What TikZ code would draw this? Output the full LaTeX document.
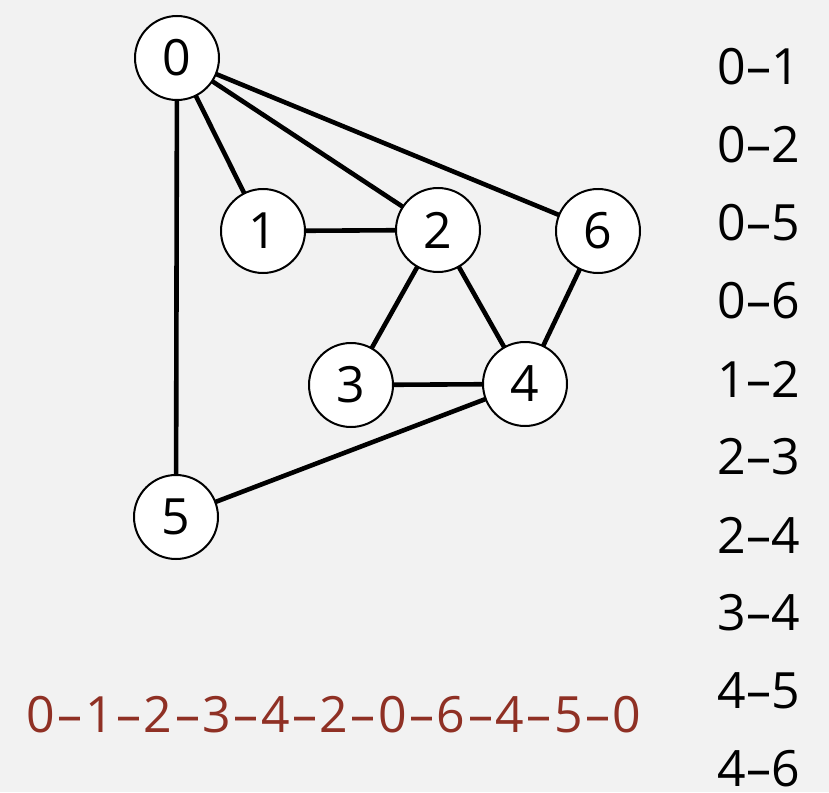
\documentclass[tikz,border=0pt]{standalone}
\usepackage{fontspec}
\setmainfont{Open Sans}
\definecolor{bggray}{RGB}{242,242,242}
\definecolor{pathred}{RGB}{143,48,36}
\usetikzlibrary{positioning,backgrounds}

\begin{document}
\begin{tikzpicture}[
    x=0.5pt, y=-0.5pt,
    vertex/.style={circle, draw=black, line width=1pt, fill=white, minimum size=42pt, inner sep=0pt, font=\fontsize{25}{30}\selectfont},
    edge/.style={line width=2.3pt, black},
    elabel/.style={anchor=center, font=\fontsize{25}{30}\selectfont}
]
    \useasboundingbox (0,0) rectangle (829,792);

    \node[vertex] (v0) at (177,58) {0};
    \node[vertex] (v1) at (263,231) {1};
    \node[vertex] (v2) at (438,230) {2};
    \node[vertex] (v6) at (598,231) {6};
    \node[vertex] (v3) at (351,385) {3};
    \node[vertex] (v4) at (525,384) {4};
    \node[vertex] (v5) at (176,517) {5};

    \begin{scope}[on background layer]
        \fill[bggray] (0,0) rectangle (829,792);
        \foreach \a/\b in {0/1, 0/2, 0/5, 0/6, 1/2, 2/3, 2/4, 3/4, 4/5, 4/6}
            \draw[edge] (v\a.center) -- (v\b.center);
    \end{scope}

    % edge list
    \foreach \e [count=\i from 0] in {0--1, 0--2, 0--5, 0--6, 1--2, 2--3, 2--4, 3--4, 4--5, 4--6}
        \node[elabel] (e\i) at (759,{67+78*\i}) {\e};

    \node[elabel, text=pathred] (tour) at (334,715) {\addfontfeatures{LetterSpace=5}0–1–2–3–4–2–0–6–4–5–0};
\end{tikzpicture}
\end{document}
